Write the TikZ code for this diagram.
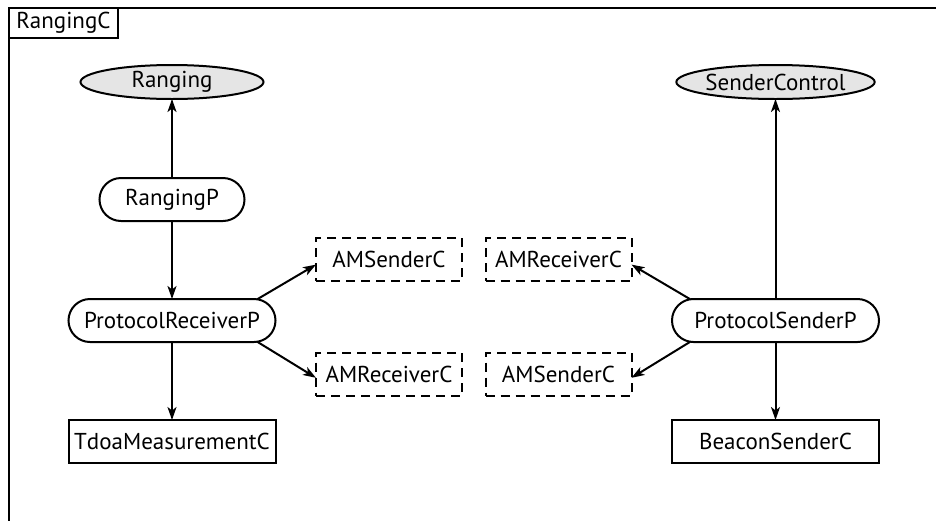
\documentclass[tikz,border=0pt]{standalone}
\usepackage{fontspec}
\setmainfont{PT Sans}
\usetikzlibrary{shapes.geometric,shapes.misc,arrows.meta}

\tikzset{
  base/.style={draw, line width=2pt, inner sep=0pt, outer sep=0pt,
    font=\fontsize{23}{26}\selectfont, text=black},
  iface/.style={base, ellipse, fill=black!10, minimum width=183pt, minimum height=34pt},
  module/.style={base, rounded rectangle, minimum height=43pt},
  config/.style={base, rectangle, minimum width=207pt, minimum height=43pt},
  generic/.style={base, rectangle, dashed, dash pattern=on 9pt off 6pt,
    minimum width=146pt, minimum height=43pt},
  wire/.style={line width=2pt, -{Stealth[length=13pt, width=9pt, inset=3.5pt]}}
}

\begin{document}
\begin{tikzpicture}[x=1pt, y=1pt]
  \useasboundingbox (0,0) rectangle (936,-520);
  \clip (0,0) rectangle (936,-520);

  % enclosing configuration frame and its title tab
  \draw[line width=2.2pt] (960,-8) -- (9,-8) -- (9,-540);
  \node[base, rectangle, minimum width=109pt, minimum height=30pt, anchor=north west]
    (title) at (9,-8) {RangingC};

  % provided interfaces
  \node[iface] (ranging) at (172,-82) {Ranging};
  \node[iface] (senderctl) at (775.5,-82) {SenderControl};

  % modules
  \node[module, minimum width=145pt] (rangingp) at (172,-199.5) {RangingP};
  \node[module, minimum width=207pt] (prp) at (172,-320.5) {ProtocolReceiverP};
  \node[module, minimum width=207pt] (psp) at (775.5,-320.5) {ProtocolSenderP};

  % components
  \node[config] (tdoa) at (172,-441.5) {TdoaMeasurementC};
  \node[config] (beacon) at (775.5,-441.5) {BeaconSenderC};

  % generic components
  \node[generic] (amsA) at (389,-259.5) {AMSenderC};
  \node[generic] (amrA) at (558.5,-259.5) {AMReceiverC};
  \node[generic] (amrB) at (389,-374) {AMReceiverC};
  \node[generic] (amsB) at (558.5,-374) {AMSenderC};

  % wiring
  \draw[wire] (rangingp.north) -- (ranging.south);
  \draw[wire] (rangingp.south) -- (prp.north);
  \draw[wire] (prp.south) -- (tdoa.north);
  \draw[wire] (psp.north) -- (senderctl.south);
  \draw[wire] (psp.south) -- (beacon.north);
  \draw[wire] (prp.14) -- (amsA.184);
  \draw[wire] (prp.-14) -- (amrB.183);
  \draw[wire] (psp.166) -- (amrA.356);
  \draw[wire] (psp.194) -- (amsB.357);
\end{tikzpicture}
\end{document}
